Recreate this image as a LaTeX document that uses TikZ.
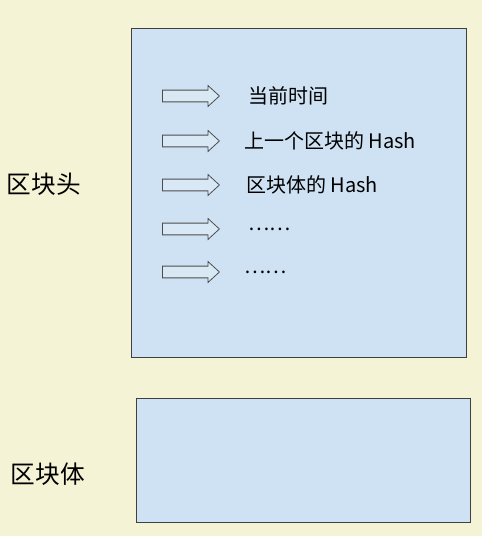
\documentclass[tikz,border=0pt]{standalone}
\usepackage{fontspec}
\setmainfont{Noto Sans CJK SC}
\usepackage{xcolor}
\usetikzlibrary{positioning, shapes.arrows}
\definecolor{paper}{RGB}{245,243,213}
\definecolor{boxblue}{RGB}{207,226,243}
\tikzset{
	block/.style={draw=black!75, line width=0.75pt, fill=boxblue, inner sep=0pt},
	field/.style={single arrow, draw=black!70, line width=0.6pt, fill=white!20!boxblue,
		minimum height=42.75pt, text height=0pt, text depth=0pt, inner xsep=0pt, inner ysep=4.1pt,
		single arrow head extend=3.4pt, single arrow tip angle=85, anchor=tail}
}
\newcommand{\lbl}[1]{\fontsize{18.5pt}{20pt}\selectfont #1}

\begin{document}
\begin{tikzpicture}[
	x=0.75pt, y=-0.75pt,
	t/.style={anchor=west, inner sep=0pt, font=\fontsize{15pt}{17pt}\selectfont},
	node distance=19.5pt]
	\fill[paper] (0,0) rectangle (482,536);
	\useasboundingbox (0,0) rectangle (482,536);
	% header and body
	\node[block, minimum width=251.25pt, minimum height=246.75pt] (head) at (298.5,192.5) {};
	\node[block, minimum width=250.5pt, minimum height=93pt] (body) at (303,460) {};
	\node (headlbl) at (44,184) {\lbl{区块头}};
	\node (bodylbl) at (48,474) {\lbl{区块体}};
	% fields of the header
	\node[field] (a1) at (162,96) {};
	\node[field] (a2) at (162,141) {};
	\node[field] (a3) at (162,185) {};
	\node[field] (a4) at (162,229) {};
	\node[field] (a5) at (162,272) {};
	\node[t, right=21pt of a1.tip] (f1) {当前时间};
	\node[t, right=18pt of a2.tip] (f2) {上一个区块的 Hash};
	\node[t, right=19.5pt of a3.tip] (f3) {区块体的 Hash};
	\node[t, right=21pt of a4.tip] (f4) {……};
	\node[t, right=18pt of a5.tip] (f5) {……};
\end{tikzpicture}
\end{document}
